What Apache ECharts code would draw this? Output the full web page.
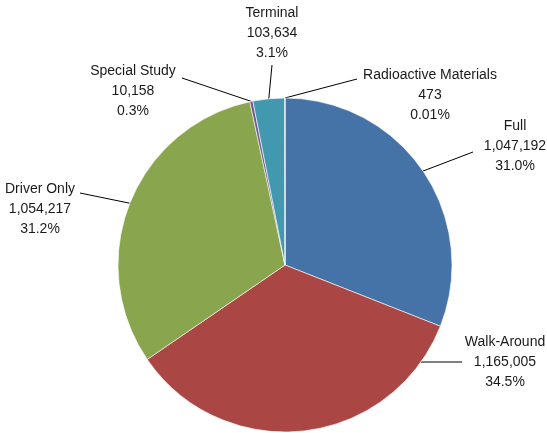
<!DOCTYPE html>
<html>
<head>
<meta charset="utf-8">
<script src="https://cdn.jsdelivr.net/npm/echarts@6/dist/echarts.min.js"></script>
<style>
  html, body { margin: 0; padding: 0; background: #fff; }
  #chart { width: 547px; height: 433px; }
</style>
</head>
<body>
<div id="chart"></div>
<script>
// inspection categories, clockwise from 12 o'clock
var categories = ['Full', 'Walk-Around', 'Driver Only', 'Special Study', 'Terminal', 'Radioactive Materials']
var counts = [1047192, 1165005, 1054217, 10158, 103634, 473]
var colors = ['#4572a7', '#aa4643', '#89a54e', '#71588f', '#4198af', '#db843d']

// where each label sits (text centre) and where its leader line ends
var labelPos = [[515, 146], [505, 362], [40, 209], [133, 91], [272, 33], [430, 95]]
var lineEnd = [[473, 152], [462, 362], [80, 193], [182, 78], [272, 65], [357, 79]]

var total = counts.reduce(function(a, b) { return a + b }, 0)

function pct(v) {
  var p = v / total * 100
  return (p < 0.1 ? p.toFixed(2) : p.toFixed(1)) + '%'
}

var chart = echarts.init(document.getElementById('chart'))
chart.setOption({
  animation: false,
  series: [{
    type: 'pie',
    center: [285, 265],
    radius: 167,
    startAngle: 90,
    clockwise: true,
    avoidLabelOverlap: false,
    itemStyle: {
      borderColor: '#ffffff',
      borderWidth: 0.6
    },
    label: {
      show: true,
      position: 'outside',
      color: '#1a1a1a',
      fontFamily: 'Liberation Sans Narrow, Arial Narrow, Liberation Sans, Arial, sans-serif',
      fontSize: 14,
      lineHeight: 20,
      align: 'center',
      formatter: function(p) {
        return p.name + '\n' + p.value.toLocaleString('en-US') + '\n' + pct(p.value)
      }
    },
    labelLine: {
      show: true,
      lineStyle: { color: '#000', width: 1 }
    },
    labelLayout: function(params) {
      var i = params.dataIndex
      var start = params.labelLinePoints ? params.labelLinePoints[0] : lineEnd[i]
      if (i === 1) {
        // Walk-Around leader is horizontal, meeting the arc at the label's height
        var dy = lineEnd[i][1] - 265
        start = [285 + Math.sqrt(167 * 167 - dy * dy), lineEnd[i][1]]
      }
      return {
        x: labelPos[i][0],
        y: labelPos[i][1],
        align: 'center',
        verticalAlign: 'middle',
        labelLinePoints: [start, lineEnd[i], lineEnd[i]]
      }
    },
    data: categories.map(function(name, i) {
      return { name: name, value: counts[i], itemStyle: { color: colors[i] } }
    })
  }]
})
</script>
</body>
</html>
